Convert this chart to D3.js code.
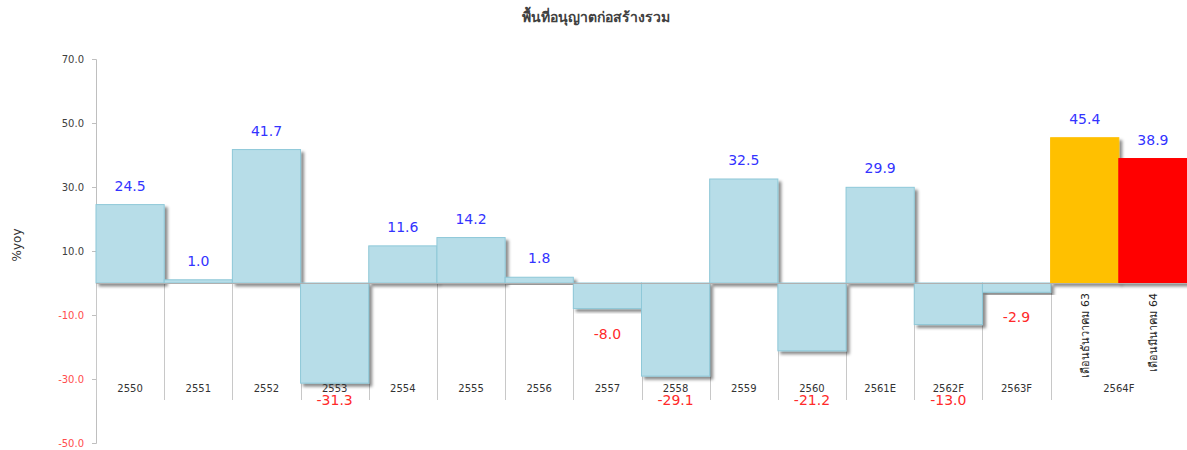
<!DOCTYPE html>
<html>
<head>
<meta charset="utf-8">
<script src="https://cdn.jsdelivr.net/npm/d3@7"></script>
<style>
  body { margin: 0; background: #fff; }
  text { font-family: Tahoma, "DejaVu Sans", "Noto Sans", sans-serif; }
</style>
</head>
<body>
<div id="chart"></div>
<script>
// yearly %yoy
var years = ["2550", "2551", "2552", "2553", "2554", "2555", "2556", "2557",
             "2558", "2559", "2560", "2561E", "2562F", "2563F"];
var yoy = [24.5, 1.0, 41.7, -31.3, 11.6, 14.2, 1.8, -8.0,
           -29.1, 32.5, -21.2, 29.9, -13.0, -2.9];

// last group split by month
var groupLabel = "2564F";
var monthLabels = ["เดือนธันวาคม 63", "เดือนมีนาคม 64"];
var monthValues = [45.4, 38.9];
var monthColors = ["#ffc000", "#ff0000"];

var yTicks = [70, 50, 30, 10, -10, -30, -50];

var W = 1187, H = 450;
var svg = d3.select("#chart").append("svg")
    .attr("width", W)
    .attr("height", H);

var defs = svg.append("defs");
defs.append("filter")
    .attr("id", "shadow")
    .attr("x", "-10%").attr("y", "-10%")
    .attr("width", "130%").attr("height", "130%")
  .append("feDropShadow")
    .attr("dx", 3).attr("dy", 3)
    .attr("stdDeviation", 1.5)
    .attr("flood-color", "#000")
    .attr("flood-opacity", 0.45);

// one table of all bars
var bars = years.map(function(d, i) {
  return {key: d, value: yoy[i], fill: "#b7dde8", stroke: "#8ec8d8"};
});
monthLabels.forEach(function(d, i) {
  bars.push({key: d, value: monthValues[i], fill: monthColors[i], stroke: monthColors[i], month: true});
});

var x = d3.scaleBand()
    .domain(bars.map(function(d) { return d.key; }))
    .range([96, W])
    .padding(0);

var y = d3.scaleLinear()
    .domain([-50, 70])
    .range([443, 59]);

// title
svg.append("text")
    .attr("x", 596).attr("y", 22)
    .attr("text-anchor", "middle")
    .attr("font-size", 14)
    .attr("font-weight", "bold")
    .attr("fill", "#404040")
    .text("พื้นที่อนุญาตก่อสร้างรวม");

// y axis title
svg.append("text")
    .attr("transform", "translate(21,245) rotate(-90)")
    .attr("text-anchor", "middle")
    .attr("font-size", 12)
    .attr("fill", "#333")
    .text("%yoy");

// y axis
var yAxis = svg.append("g")
    .attr("transform", "translate(96,0)")
    .call(d3.axisLeft(y)
      .tickValues(yTicks)
      .tickSize(4)
      .tickPadding(8)
      .tickFormat(function(d) { return d.toFixed(1); }));
yAxis.select(".domain").attr("stroke", "#bfbfbf");
yAxis.selectAll(".tick line").attr("stroke", "#bfbfbf");
yAxis.selectAll(".tick text")
    .attr("font-size", 10)
    .attr("font-family", "Tahoma, 'DejaVu Sans', sans-serif")
    .attr("fill", function(d) { return d < 0 ? "#ff4d4d" : "#404040"; });

// category separators below zero
var sepX = years.map(function(d) { return x(d); })
    .concat([x(monthLabels[0]), W - 0.5]);
svg.append("g").selectAll("line")
    .data(sepX)
  .enter().append("line")
    .attr("x1", function(d) { return Math.round(d) + 0.5; })
    .attr("x2", function(d) { return Math.round(d) + 0.5; })
    .attr("y1", y(0))
    .attr("y2", 400)
    .attr("stroke", "#c8c8c8");

// bars
svg.append("g").selectAll("rect")
    .data(bars)
  .enter().append("rect")
    .attr("x", function(d) { return x(d.key); })
    .attr("width", x.bandwidth())
    .attr("y", function(d) { return y(Math.max(0, d.value)); })
    .attr("height", function(d) { return Math.abs(y(d.value) - y(0)); })
    .attr("fill", function(d) { return d.fill; })
    .attr("stroke", function(d) { return d.stroke; })
    .attr("stroke-width", 1)
    .attr("filter", "url(#shadow)");

// zero line
svg.append("line")
    .attr("x1", 96).attr("x2", W)
    .attr("y1", y(0) + 0.5).attr("y2", y(0) + 0.5)
    .attr("stroke", "#b0b0b0");

// category labels
svg.append("g").selectAll("text")
    .data(years)
  .enter().append("text")
    .attr("x", function(d) { return x(d) + x.bandwidth() / 2; })
    .attr("y", 392)
    .attr("text-anchor", "middle")
    .attr("font-size", 10)
    .attr("fill", "#333")
    .text(function(d) { return d; });

svg.append("text")
    .attr("x", x(monthLabels[1]))
    .attr("y", 392)
    .attr("text-anchor", "middle")
    .attr("font-size", 10)
    .attr("fill", "#333")
    .text(groupLabel);

// month labels, rotated
svg.append("g").selectAll("text")
    .data(monthLabels)
  .enter().append("text")
    .attr("transform", function(d) {
      return "translate(" + (x(d) + x.bandwidth() / 2) + "," + (y(0) + 10) + ") rotate(-90)";
    })
    .attr("dy", "0.35em")
    .attr("text-anchor", "end")
    .attr("font-size", 11)
    .attr("fill", "#222")
    .text(function(d) { return d; });

// value labels
svg.append("g").selectAll("text")
    .data(bars)
  .enter().append("text")
    .attr("x", function(d) { return x(d.key) + x.bandwidth() / 2; })
    .attr("y", function(d) {
      if (d.value >= 0) return y(d.value) - 14;
      // deep bars push their label below the category row
      return d.value < -10 ? y(-38) : y(d.value) + 30;
    })
    .attr("text-anchor", "middle")
    .attr("font-size", 14)
    .attr("fill", function(d) { return d.value >= 0 ? "#3333ff" : "#ff2a2a"; })
    .text(function(d) { return d.value.toFixed(1); });
</script>
</body>
</html>
